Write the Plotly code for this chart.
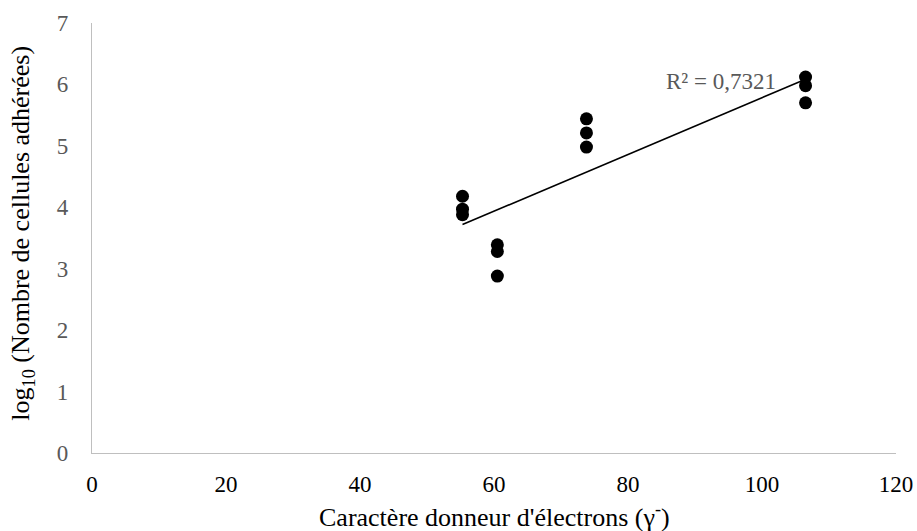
import numpy as np
import plotly.graph_objects as go

# Electron-donor character (gamma-) of each strain, three replicates each
gamma_minus = [55.3, 55.3, 55.3, 60.5, 60.5, 60.5, 73.8, 73.8, 73.8, 106.5, 106.5, 106.5]
# log10 of adhered cell counts
log_adhered = [4.18, 3.97, 3.88, 3.39, 3.28, 2.88, 5.44, 5.21, 4.98, 6.12, 5.98, 5.70]
r2_label = "R² = 0,7321"
x_title = "Caractère donneur d'électrons (γ<sup>-</sup>)"
y_title = "log<sub>10</sub> (Nombre de cellules adhérées)"

x_ticks = [0, 20, 40, 60, 80, 100, 120]
y_ticks = [0, 1, 2, 3, 4, 5, 6, 7]

# Linear trend line over the data range
slope, intercept = np.polyfit(gamma_minus, log_adhered, 1)
x_fit = np.array([min(gamma_minus), max(gamma_minus)])
y_fit = slope * x_fit + intercept

W, H = 917, 531
L, R, T, B = 92, 21, 23, 78
plot_w, plot_h = W - L - R, H - T - B

fig = go.Figure()
fig.add_trace(go.Scatter(
    x=gamma_minus, y=log_adhered, mode="markers",
    marker=dict(color="black", size=13, line=dict(width=0)),
    showlegend=False, hoverinfo="x+y",
))
fig.add_trace(go.Scatter(
    x=x_fit, y=y_fit, mode="lines",
    line=dict(color="black", width=1.6),
    showlegend=False, hoverinfo="skip",
))

serif = "Liberation Serif, Times New Roman, serif"
x_tick_font = dict(family=serif, size=23, color="black")
y_tick_font = dict(family=serif, size=23, color="#595959")
title_font = dict(family=serif, size=26, color="black")

fig.add_annotation(
    x=85.3, y=6.05, xref="x", yref="y", text=r2_label, showarrow=False,
    xanchor="left", yanchor="middle",
    font=dict(family=serif, size=23, color="#595959"),
)
# Axis titles placed in paper coordinates
fig.add_annotation(
    x=0.5, y=-(515 - (H - B)) / plot_h, xref="paper", yref="paper",
    text=x_title, showarrow=False, xanchor="center", yanchor="middle",
    font=title_font,
)
fig.add_annotation(
    x=(22 - L) / plot_w, y=0.51, xref="paper", yref="paper",
    text=y_title, showarrow=False, xanchor="center", yanchor="middle",
    textangle=-90, font=title_font,
)

fig.update_layout(
    width=W, height=H,
    margin=dict(l=L, r=R, t=T, b=B),
    paper_bgcolor="white", plot_bgcolor="white",
    xaxis=dict(
        range=[0, 120], tickvals=x_ticks, ticktext=[str(v) for v in x_ticks],
        showgrid=False, zeroline=False, showline=True, linecolor="#bfbfbf", linewidth=1.3,
        ticks="", tickfont=x_tick_font, ticklabelstandoff=10, automargin=False,
    ),
    yaxis=dict(
        range=[0, 7], tickvals=y_ticks, ticktext=[str(v) for v in y_ticks],
        showgrid=False, zeroline=False, showline=True, linecolor="#bfbfbf", linewidth=1.3,
        ticks="", tickfont=y_tick_font, ticklabelstandoff=18, automargin=False,
    ),
)

fig.write_html("out.html")
